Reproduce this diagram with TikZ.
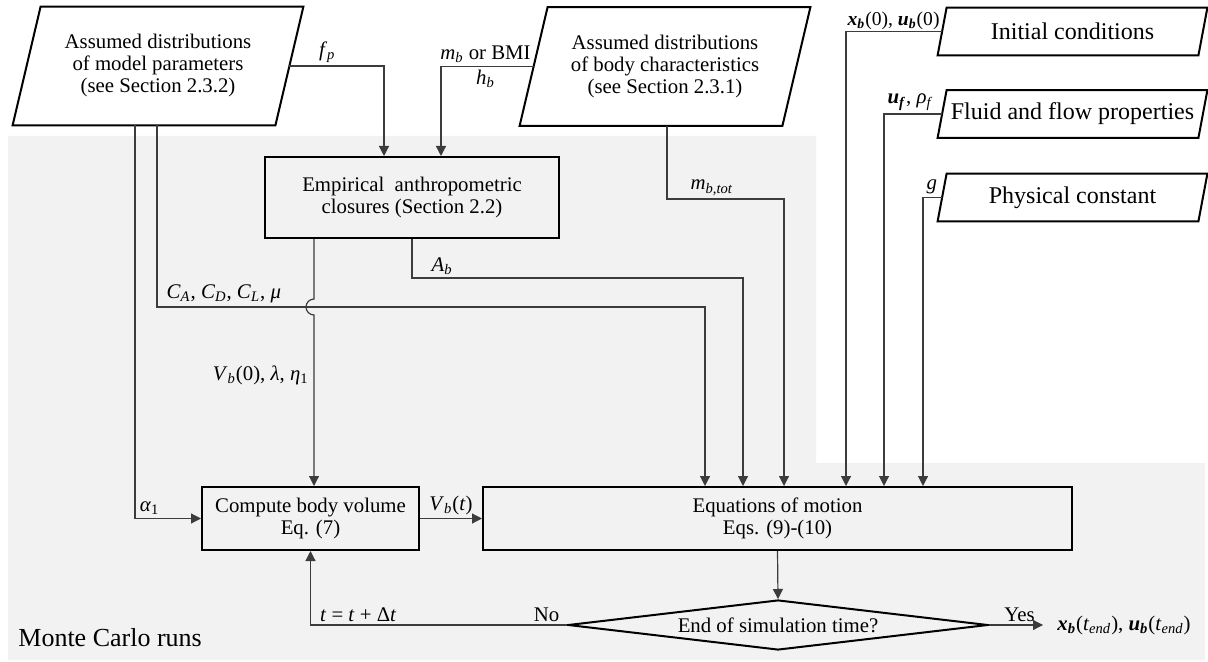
\documentclass[tikz,border=0pt]{standalone}
\usepackage{fontspec}
\setmainfont{Liberation Serif}
\usetikzlibrary{positioning,shapes.geometric,arrows.meta,calc}
\definecolor{mcgray}{RGB}{242,242,242}
\definecolor{flowline}{RGB}{60,60,60}

% italic variable with italic subscript
\newcommand{\vsub}[2]{\textit{#1}\textsubscript{\textit{#2}}}
\newcommand{\bvsub}[2]{\textbf{\textit{#1}\textsubscript{\textit{#2}}}}
% slanted outline round a named node
\newcommand{\slantbox}[2]{\draw[line width=1pt] ([xshift=#2]#1.north west) -- ([xshift=#2]#1.north east)
    -- ([xshift=-#2]#1.south east) -- ([xshift=-#2]#1.south west) -- cycle;}

\tikzset{
  boxfont/.style={font=\fontsize{10.4}{11}\selectfont},
  procbox/.style={draw,rectangle,line width=1pt,boxfont,align=center,inner sep=2pt},
  databox/.style={rectangle,boxfont,align=center,inner sep=1pt,minimum width=131pt,minimum height=59pt},
  inbox/.style={rectangle,font=\fontsize{12}{13}\selectfont,inner sep=1pt,minimum width=130pt,minimum height=23.5pt},
  decbox/.style={draw,diamond,aspect=8.4,line width=1pt,boxfont,inner sep=0pt,minimum width=210pt,minimum height=25pt},
  lbl/.style={boxfont,inner sep=1.5pt},
  flow/.style={draw=flowline,line width=0.6pt,-{Triangle[length=5pt,width=5pt]}}
}

\begin{document}
\begin{tikzpicture}[x=0.5pt,y=-0.5pt]
    \useasboundingbox (0,0) rectangle (1208,662);
    % Monte Carlo region
    \fill[mcgray] (8,136) -- (816,136) -- (816,463) -- (1205,463) -- (1205,660) -- (8,660) -- cycle;
    \node[anchor=west,inner sep=0pt,font=\fontsize{13}{15}\selectfont] (mc) at (18,638) {Monte Carlo runs};

    % Input distributions
    \node[databox] (param) at (158,66) {Assumed distributions\\of model parameters\\(see Section 2.3.2)};
    \node[databox] (body) at (665,66.5) {Assumed distributions\\of body characteristics\\(see Section 2.3.1)};
    \slantbox{param}{7pt}
    \slantbox{body}{7pt}

    % Other inputs
    \node[inbox] (init) at (1072.5,31.5) {Initial conditions};
    \node[inbox] (fluid) at (1072.5,114) {Fluid and flow properties};
    \node[inbox] (phys) at (1072.5,197.5) {Physical constant};
    \slantbox{init}{2.25pt}
    \slantbox{fluid}{2.25pt}
    \slantbox{phys}{2.25pt}

    % Processing
    \node[procbox,minimum width=147pt,minimum height=40.5pt] (emp) at (412,197.5) {Empirical\ \ anthropometric\\closures (Section 2.2)};
    \node[procbox,minimum width=108.5pt,minimum height=31.5pt] (comp) at (310.5,518.5) {Compute body volume\\Eq. (7)};
    \node[procbox,minimum width=294.5pt,minimum height=31.5pt] (eq) at (777.5,518.5) {Equations of motion\\Eqs. (9)-(10)};
    \node[decbox] (dia) at (778,625) {End of simulation time?};
    \node[lbl,anchor=west,inner sep=3.5pt] (out) at (1050,625) {\bvsub{x}{b}(\vsub{t}{end}), \bvsub{u}{b}(\vsub{t}{end})};

    % Inputs of the equations of motion
    \coordinate (inA) at ([xshift=-36.25pt]eq.north);
    \coordinate (inB) at ([xshift=-17.25pt]eq.north);
    \coordinate (inC) at ([xshift=3.25pt]eq.north);
    \coordinate (inD) at ([xshift=34.25pt]eq.north);
    \coordinate (inE) at ([xshift=53.25pt]eq.north);
    \coordinate (inF) at ([xshift=72.75pt]eq.north);
    \coordinate (vbtop) at ([xshift=-49pt]emp.south);

    % Connectors
    \draw[flow] (param.east) -| ([xshift=-14pt]emp.north) node[lbl,pos=0.2,above] {\vsub{f}{p}};
    \draw[flow] (body.west) -| ([xshift=14.5pt]emp.north)
        node[lbl,pos=0.26,above] {\vsub{m}{b} or BMI} node[lbl,pos=0.26,below] {\vsub{h}{b}};
    \draw[flow] ([xshift=-11.5pt]param.south) |- (comp.west) node[lbl,pos=0.61,above] {\textit{α}\textsubscript{1}};
    \draw[flow] ([xshift=-0.5pt]param.south) |- (inA |- 0,307)
        node[lbl,pos=0.5,above right,xshift=3pt] {\vsub{C}{A}, \vsub{C}{D}, \vsub{C}{L}, \textit{μ}} -- (inA);
    \draw[flow] (vbtop) -- (vbtop |- 0,299) arc[start angle=90,end angle=270,radius=4pt] -- (vbtop |- comp.north);
    \node[lbl,anchor=east] (vblbl) at (312,375) {\vsub{V}{b}(0), \textit{λ}, \textit{η}\textsubscript{1}};
    \draw[flow] (emp.south) |- (inB |- 0,278)
        node[lbl,pos=0.5,above right,xshift=8pt] {\vsub{A}{b}} -- (inB);
    \draw[flow] ([xshift=1pt]body.south) |- (inC |- 0,199)
        node[lbl,pos=0.5,above right,xshift=10pt] {\vsub{m}{b,tot}} -- (inC);
    \draw[flow] (init.west) -| (inD) node[lbl,pos=0.5,above right,inner sep=0.5pt,font=\fontsize{9.8}{11}\selectfont] {\bvsub{x}{b}(0), \bvsub{u}{b}(0)};
    \draw[flow] (fluid.west) -| (inE) node[lbl,pos=0.5,above right] {\bvsub{u}{f}, \vsub{ρ}{f}};
    \draw[flow] (phys.west) -| (inF) node[lbl,pos=0.5,above right] {\textit{g}};
    \draw[flow] (comp.east) -- (eq.west) node[lbl,midway,above] {\vsub{V}{b}(\textit{t})};
    \draw[flow] (eq.south) -- (dia.north);
    \draw[flow] (dia.west) -| (comp.south)
        node[lbl,pos=0.04,above] {No} node[lbl,pos=0.5,above right,xshift=3pt] {\textit{t} = \textit{t} + Δ\textit{t}};
    \draw[flow,shorten >=3.5pt] (dia.east) -- (out.west) node[lbl,midway,above] {Yes};
\end{tikzpicture}
\end{document}
